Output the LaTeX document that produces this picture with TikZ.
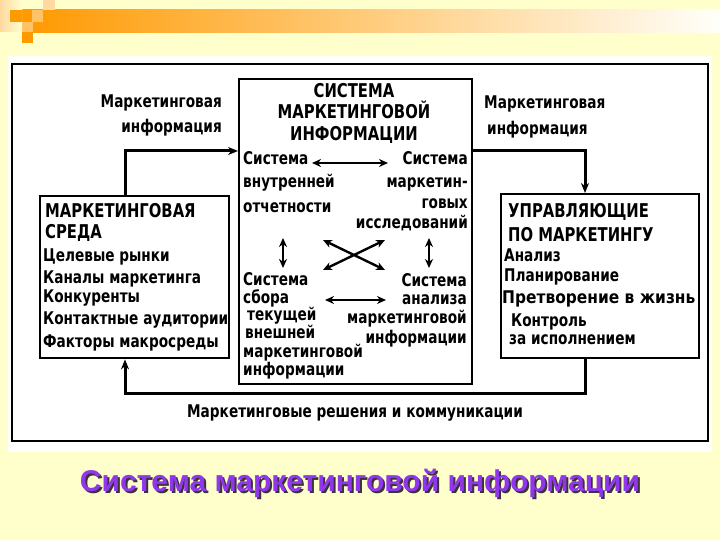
\documentclass[tikz,border=0pt]{standalone}
\usepackage{fontspec}
\setmainfont[FakeStretch=0.78]{DejaVu Sans}
\newfontfamily\ttlfont{Liberation Sans}
\usetikzlibrary{arrows.meta}
\definecolor{bgyellow}{HTML}{FFFFCC}
\definecolor{darkor}{HTML}{FF9900}
\definecolor{lightor}{HTML}{FFC266}
\definecolor{paleor}{HTML}{FFD9A0}
\definecolor{ttlpurple}{RGB}{145,55,235}
\definecolor{ttlshadow}{RGB}{60,50,60}
\tikzset{
  frame/.style={draw=black, line width=2.2pt},
  boxnode/.style={draw=black, line width=2.4pt, fill=white, inner sep=0pt, anchor=north west},
  conn/.style={draw=black, line width=3pt, -{Stealth[length=10pt,width=8pt]}},
  dbl/.style={draw=black, line width=2.4pt, {Stealth[length=9pt,width=8pt]}-{Stealth[length=9pt,width=8pt]}},
  txt/.style={inner sep=0pt, font=\bfseries\fontsize{17.5}{18}\selectfont},
  caps/.style={inner sep=0pt, font=\bfseries\fontsize{19}{20}\selectfont},
}
\newcommand{\shadowtitle}[1]{\makebox[0pt][l]{\hspace{2pt}\raisebox{-2pt}{\textcolor{ttlshadow}{#1}}}\textcolor{ttlpurple}{#1}}
\begin{document}
\begin{tikzpicture}[x=1pt,y=-1pt]
\useasboundingbox (0,0) rectangle (720,540);
\fill[bgyellow] (0,0) rectangle (720,540);
% top bar and squares
\shade[left color=darkor, right color=white!90!bgyellow] (22,10) rectangle (720,33);
\shade[left color=paleor, right color=bgyellow] (0,0) rectangle (22,32);
\fill[darkor] (10,10) rectangle (22,22);
\fill[lightor] (32,10) rectangle (43,22);
\fill[paleor] (43,0) rectangle (55,10);
\fill[lightor] (22,22) rectangle (33,32);
\fill[darkor] (22,32) rectangle (33,43);
% white panel and frame
\fill[white] (8,56) rectangle (712,452);
\draw[frame] (12,64) rectangle (708,441);
% boxes
\node[boxnode, minimum width=233pt, minimum height=305pt] (cbox) at (238,78) {};
\node[boxnode, minimum width=189pt, minimum height=162pt] (lbox) at (39,195) {};
\node[boxnode, minimum width=198pt, minimum height=164pt] (rbox) at (500,193) {};
% connectors
\coordinate (la) at (125,151);
\coordinate (ra) at (585,151);
\coordinate (ba) at (585,393);
\coordinate (bb) at (125,393);
\draw[conn] (la |- lbox.north) -- (la) -- (la -| cbox.west);
\draw[conn] (ra -| cbox.east) -- (ra) -- (ra |- rbox.north);
\draw[conn] (ba |- rbox.south) -- (ba) -- (bb) -- (bb |- lbox.south);
% connector labels
\node[txt, anchor=base east] (lab1) at (222,108) {Маркетинговая};
\node[txt, anchor=base east] (lab2) at (222,133) {информация};
\node[txt, anchor=base west] (lab3) at (484,109) {Маркетинговая};
\node[txt, anchor=base west] (lab4) at (487,135) {информация};
\node[txt, anchor=base] (lab5) at (355,417) {Маркетинговые решения и коммуникации};
% center box title
\foreach \yy/\t [count=\i] in {98/СИСТЕМА, 119/МАРКЕТИНГОВОЙ, 141/ИНФОРМАЦИИ}
  \node[caps, anchor=base] (ct\i) at (354,\yy) {\t};
% center sub-systems
\foreach \yy/\t [count=\i] in {165/Система, 188/внутренней, 213/отчетности}
  \node[txt, anchor=base west] (tl\i) at (243,\yy) {\t};
\foreach \yy/\t [count=\i] in {165/Система, 188/маркетин-, 208/говых, 229/исследований}
  \node[txt, anchor=base east] (tr\i) at (468,\yy) {\t};
\foreach \xx/\yy/\t [count=\i] in {243/285/Система, 243/303/сбора, 247/320/текущей, 245/338/внешней, 243/357/маркетинговой, 243/375/информации}
  \node[txt, anchor=base west] (bl\i) at (\xx,\yy) {\t};
\foreach \yy/\t [count=\i] in {286/Система, 304/анализа, 323/маркетинговой, 343/информации}
  \node[txt, anchor=base east] (br\i) at (467,\yy) {\t};
% inner arrows
\coordinate (h1a) at (312,163); \coordinate (h1b) at (388,163);
\coordinate (v1a) at (283,238); \coordinate (v1b) at (283,268);
\coordinate (v2a) at (429,238); \coordinate (v2b) at (429,268);
\coordinate (x1a) at (323,240); \coordinate (x1b) at (385,270);
\coordinate (x2a) at (385,240); \coordinate (x2b) at (323,270);
\coordinate (h2a) at (325,300); \coordinate (h2b) at (386,300);
\draw[dbl] (h1a) -- (h1b);
\draw[dbl] (v1a) -- (v1b);
\draw[dbl] (v2a) -- (v2b);
\draw[dbl] (x1a) -- (x1b);
\draw[dbl] (x2a) -- (x2b);
\draw[dbl] (h2a) -- (h2b);
% left box text
\node[caps, anchor=base west] (lt1) at (45,218) {МАРКЕТИНГОВАЯ};
\node[caps, anchor=base west] (lt2) at (45,238) {СРЕДА};
\foreach \yy/\t [count=\i] in {261/Целевые рынки, 283/Каналы маркетинга, 302/Конкуренты, 324/Контактные аудитории, 347/Факторы макросреды}
  \node[txt, anchor=base west] (li\i) at (43,\yy) {\t};
% right box text
\node[caps, anchor=base west] (rt1) at (508,218) {УПРАВЛЯЮЩИЕ};
\node[caps, anchor=base west] (rt2) at (508,241) {ПО МАРКЕТИНГУ};
\foreach \xx/\yy/\t [count=\i] in {504/261/Анализ, 504/281/Планирование, 502/303/\scalebox{1.13}[1]{Претворение в жизнь}, 511/326/Контроль, 509/344/за исполнением}
  \node[txt, anchor=base west] (ri\i) at (\xx,\yy) {\t};
% title
\node[inner sep=0pt, anchor=base, font=\ttlfont\bfseries\fontsize{30}{34}\selectfont] (ttl) at (360,491) {\shadowtitle{Система маркетинговой информации}};
\end{tikzpicture}
\end{document}
